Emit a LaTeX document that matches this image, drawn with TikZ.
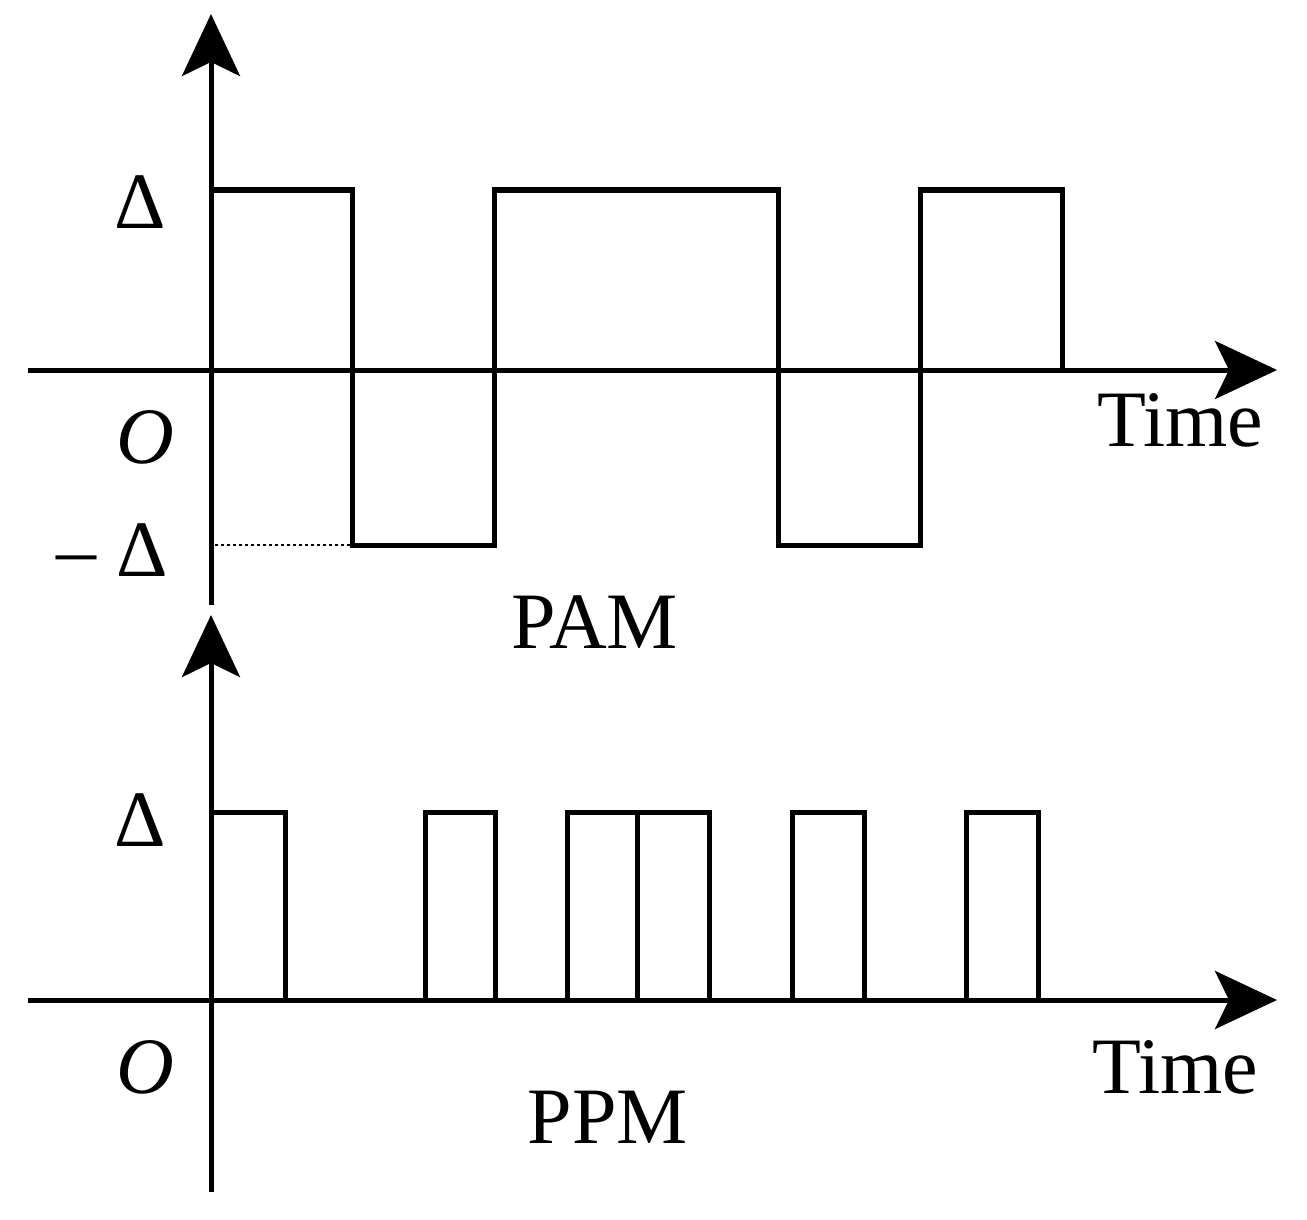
\documentclass[tikz,border=0pt]{standalone}
\usepackage{fontspec}
\setmainfont{Liberation Serif}
\usetikzlibrary{arrows.meta}
\begin{document}
\begin{tikzpicture}[x=1pt,y=-1pt,
  ax/.style={line width=5pt,-{Stealth[length=62pt,width=58pt,inset=14pt]}},
  sig/.style={line width=5pt,line join=miter},
  lbl/.style={font=\fontsize{80}{90}\selectfont,inner sep=0pt}]
\useasboundingbox (0,0) rectangle (1307,1220);
% top
\coordinate (ts) at (211,605); \coordinate (te) at (211,14);
\coordinate (hs) at (28,370); \coordinate (he) at (1277,370);
\draw[ax] (ts) -- (te);
\draw[ax] (hs) -- (he);
\draw[sig] (211,190) -- (352,190) -- (352,545) -- (494,545) -- (494,190) -- (778,190) -- (778,545) -- (920,545) -- (920,190) -- (1062,190) -- (1062,370);
\draw[dashed,line width=1.5pt] (215,545) -- (352,545);
\node[lbl] (d1) at (140,202) {Δ};
\node[lbl] (o1) at (145,437) {\itshape O};
\node[lbl] (md) at (112,550) {– Δ};
\node[lbl] (t1) at (1180,420) {Time};
\node[lbl] (pam) at (595,622) {PAM};
% bottom
\coordinate (bs) at (211,1192); \coordinate (be) at (211,615);
\coordinate (bhs) at (28,1000); \coordinate (bhe) at (1277,1000);
\draw[ax] (bs) -- (be);
\draw[ax] (bhs) -- (bhe);
\draw[sig] (211,812) -- (285,812) -- (285,1000);
\foreach \a/\b in {425/495,567/637,637/709,792/864,966/1038}
  \draw[sig] (\a,1000) -- (\a,812) -- (\b,812) -- (\b,1000);
\node[lbl] (d2) at (140,820) {Δ};
\node[lbl] (o2) at (145,1067) {\itshape O};
\node[lbl] (t2) at (1175,1067) {Time};
\node[lbl] (ppm) at (608,1117) {PPM};
\end{tikzpicture}
\end{document}
